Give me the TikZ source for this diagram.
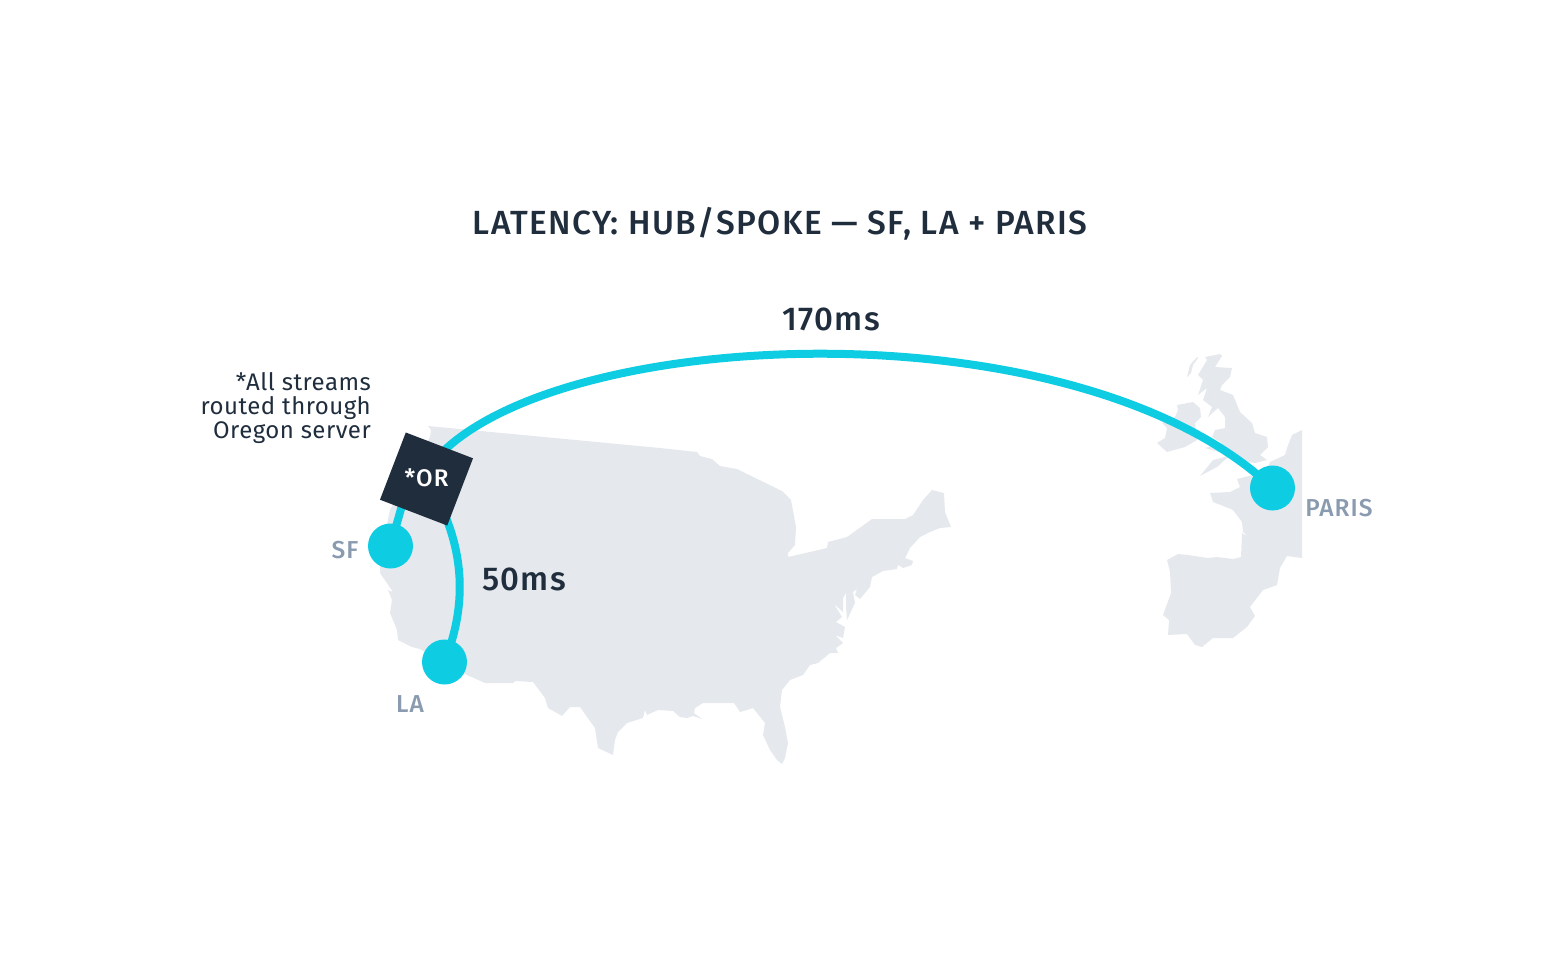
\documentclass[tikz,border=0pt]{standalone}
\usepackage{fontspec}
\setmainfont[LetterSpace=2]{Fira Sans}
\newfontfamily\medfont[LetterSpace=4]{Fira Sans Medium}
\usetikzlibrary{positioning,backgrounds}
\definecolor{mapgray}{HTML}{E5E8ED}
\definecolor{linkblue}{HTML}{0ECDE3}
\definecolor{navy}{HTML}{1F2D3D}
\definecolor{citygray}{HTML}{8A9BB0}
\begin{document}
\begin{tikzpicture}[x=1pt,y=-1pt]
    \tikzstyle{land}=[fill=mapgray,draw=none]
    \tikzstyle{link}=[draw=linkblue,line width=8]
    \tikzstyle{city}=[circle,fill=linkblue,minimum size=45,inner sep=0]
    \tikzstyle{hub}=[rectangle,fill=navy,minimum size=72,inner sep=0,rotate=-21]
    \tikzstyle{cityname}=[inner sep=0,text=citygray,font=\medfont\fontsize{24.5}{24.5}\selectfont]
    \tikzstyle{delay}=[inner sep=0,text=navy,font=\medfont\fontsize{33}{33}\selectfont]
    \useasboundingbox (0,0) rectangle (1560,966);

    \node[hub] (orbox) at (426.5,479) {};
    \node[inner sep=0,text=white,font=\medfont\fontsize{24}{24}\selectfont] (orlabel) at (426.5,478) {*OR};
    \node[city] (sf) at (390.5,546) {};
    \node[city] (la) at (444.5,662) {};
    \node[city] (paris) at (1272.5,488) {};
    \coordinate (ortop) at (427,470);
    \coordinate (orsf) at (412,470);

    \begin{scope}[on background layer]
        % usa
        \path[land] (428,426) -- (660,448) -- (697,452) -- (700,456) -- (712,459) -- (720,466) -- (737,469) -- (782,491) -- (791,500)
            -- (796,527) -- (795,545) -- (788,553) -- (788,557) -- (810,552) -- (827,548) -- (828,542) -- (847,537) -- (872,519)
            -- (905,519) -- (913,515) -- (923,500) -- (932,490) -- (944,493) -- (945,512) -- (951,527) -- (940,528) -- (930,532)
            -- (920,537) -- (910,548) -- (905,558) -- (913,561) -- (912,565) -- (903,568) -- (898,565) -- (897,569) -- (883,571)
            -- (872,577) -- (870,587) -- (860,599) -- (855,595) -- (857,589) -- (853,592) -- (855,603) -- (847,620) -- (846,607)
            -- (846,593) -- (843,598) -- (843,612) -- (834,604) -- (842,617) -- (836,622) -- (845,627) -- (843,638) -- (835,635)
            -- (843,643) -- (836,648) -- (838,653) -- (830,653) -- (818,663) -- (810,665) -- (803,675) -- (790,680) -- (782,690)
            -- (780,707) -- (785,727) -- (788,743) -- (785,758) -- (782,764) -- (777,760) -- (770,750) -- (763,735) -- (765,723)
            -- (753,708) -- (747,710) -- (740,712) -- (734,703) -- (713,703) -- (703,703) -- (695,708) -- (694,713) -- (702,719)
            -- (693,716) -- (687,718) -- (680,717) -- (673,711) -- (658,710) -- (647,715) -- (645,710) -- (643,718) -- (627,723)
            -- (618,732) -- (615,740) -- (613,755) -- (598,748) -- (595,728) -- (587,717) -- (580,707) -- (570,707) -- (562,716)
            -- (548,708) -- (545,698) -- (533,682) -- (515,681) -- (513,683) -- (485,683) -- (467,675) -- (445,663) -- (420,649)
            -- (412,647) -- (398,640) -- (397,630) -- (390,613) -- (392,600) -- (388,590) -- (393,592) -- (380,573) -- (380,557)
            -- (390,510) -- (430,437) -- (431,430) -- cycle;
        % france and spain
        \path[land] (1302,430) -- (1292,435) -- (1287,448) -- (1285,455) -- (1270,462) -- (1268,467) -- (1253,475) -- (1237,479)
            -- (1240,487) -- (1230,492) -- (1210,493) -- (1213,502) -- (1233,510) -- (1242,522) -- (1243,532) -- (1248,537)
            -- (1242,533) -- (1241,557) -- (1233,559) -- (1217,557) -- (1208,558) -- (1188,555) -- (1178,554) -- (1167,560)
            -- (1170,572) -- (1171,593) -- (1163,615) -- (1169,620) -- (1168,635) -- (1187,634) -- (1195,645) -- (1202,647)
            -- (1213,638) -- (1233,638) -- (1247,627) -- (1255,616) -- (1250,607) -- (1263,590) -- (1277,585) -- (1280,568)
            -- (1287,556) -- (1302,558) -- cycle;
        % britain
        \path[land] (1205,357) -- (1220,354) -- (1222,356) -- (1215,367) -- (1232,368) -- (1230,377) -- (1222,385) -- (1220,390)
            -- (1233,395) -- (1240,412) -- (1252,423) -- (1255,433) -- (1267,437) -- (1268,447) -- (1260,455) -- (1267,460)
            -- (1255,463) -- (1235,460) -- (1225,457) -- (1213,460) -- (1200,476) -- (1217,467) -- (1227,458) -- (1222,453)
            -- (1205,448) -- (1222,443) -- (1212,437) -- (1215,430) -- (1225,428) -- (1225,417) -- (1218,408) -- (1208,417)
            -- (1212,407) -- (1203,400) -- (1207,388) -- (1198,395) -- (1203,380) -- (1198,375) -- (1207,360) -- cycle;
        % ireland
        \path[land] (1177,405) -- (1193,402) -- (1200,408) -- (1201,417) -- (1195,423) -- (1197,440) -- (1185,447) -- (1167,452)
            -- (1157,443) -- (1165,438) -- (1167,428) -- (1162,423) -- (1175,417) -- (1178,410) -- cycle;
        % hebrides
        \path[land] (1197,357) -- (1190,365) -- (1187,377) -- (1191,373) -- (1193,365) -- (1198,358) -- cycle;

        \draw[link] (ortop) .. controls (528,326) and (1072,298) .. (paris.center);
        \draw[link] (orsf) -- (sf.center);
        \draw[link] (orbox.center) .. controls (470,550) and (465,610) .. (la.center);
    \end{scope}

    \node[inner sep=0,text=navy,font=\medfont\fontsize{33.5}{33.5}\selectfont] (title) at (780,224) {LATENCY: HUB/SPOKE — SF, LA + PARIS};
    \node[delay] (longdelay) at (831,319) {170ms};
    \node[delay] (shortdelay) at (524,579) {50ms};
    \node[align=right,anchor=east,inner sep=0,text=navy,font=\fontsize{24}{24}\selectfont] (note) at (371,408) {*All streams\\routed through\\Oregon server};
    \node[cityname] (sfname) at (345,550) {SF};
    \node[cityname] (laname) at (410,704) {LA};
    \node[cityname] (parisname) at (1339,508) {PARIS};
\end{tikzpicture}
\end{document}
